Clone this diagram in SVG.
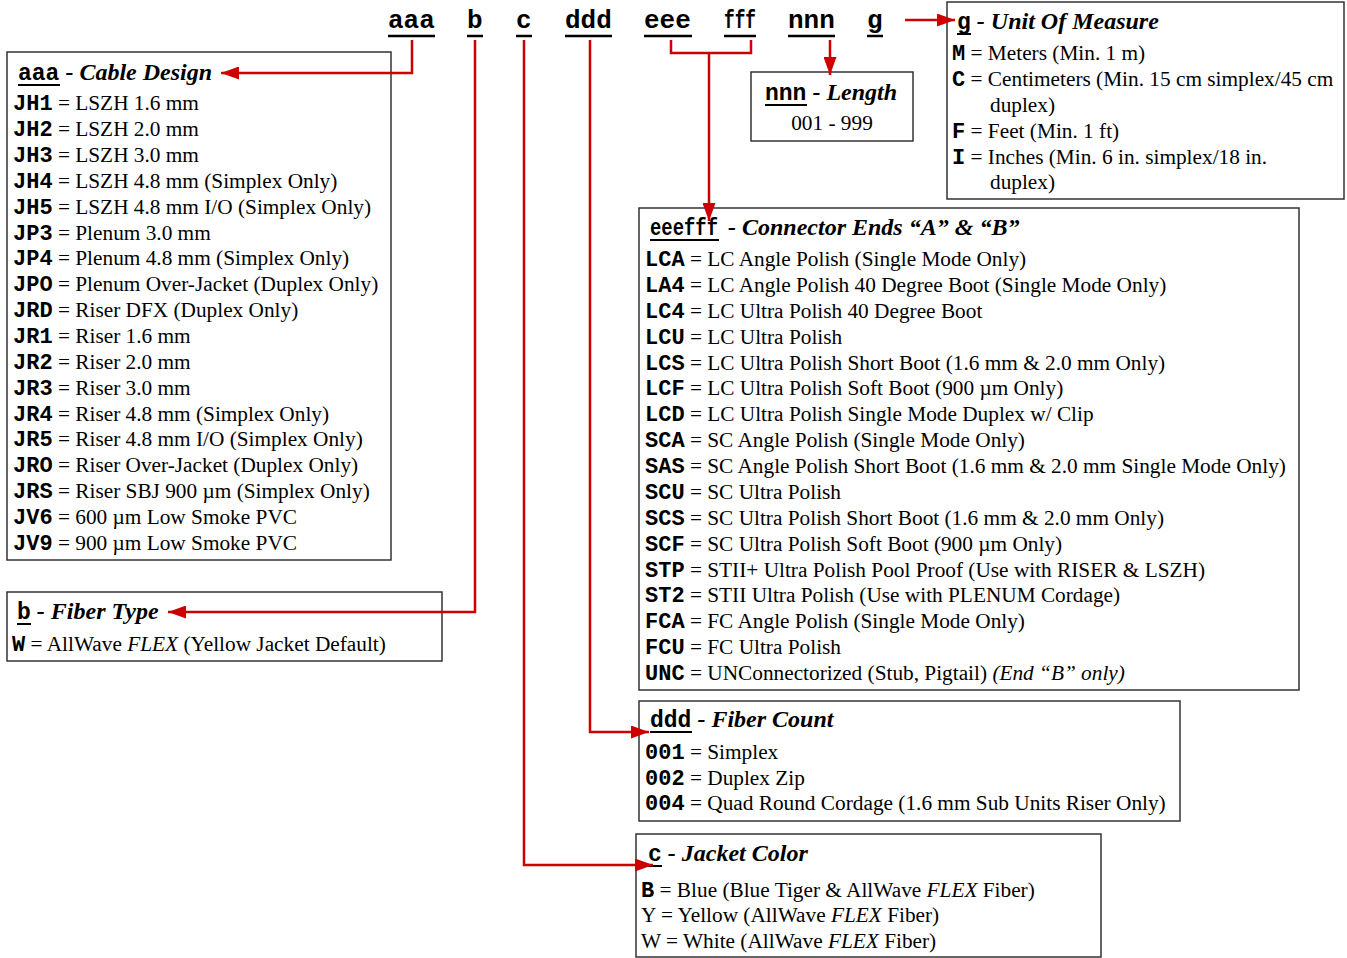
<svg xmlns="http://www.w3.org/2000/svg" width="1347" height="958" viewBox="0 0 1347 958">
<style>
text{font-family:"Liberation Serif","Times New Roman",serif;font-size:21.3px;fill:#000}
.k{font-family:"Liberation Mono","Courier New",monospace;font-weight:bold;font-size:22px}
.hc{font-family:"Liberation Mono","Courier New",monospace;font-weight:bold;font-size:23px}
.ht{font-weight:bold;font-style:italic;font-size:24px}
.top{font-family:"Liberation Mono","Courier New",monospace;font-weight:bold;font-size:26px}
.box{fill:#fff;stroke:#333;stroke-width:1.5}
.ul{stroke:#000;stroke-width:2}
.ulh{stroke:#000;stroke-width:2.5}
.con{fill:none;stroke:#cc0000;stroke-width:2.5}
.i{font-style:italic}
</style>
<defs>
<marker id="ah" markerUnits="userSpaceOnUse" markerWidth="19" markerHeight="13" refX="18" refY="6.5" orient="auto">
<path d="M0,0 L18,6.5 L0,13 z" fill="#cc0000"/>
</marker>
</defs>
<rect width="1347" height="958" fill="#fff"/>

<g id="header">
<text class="top" x="388" y="28">aaa</text>
<text class="top" x="467" y="28">b</text>
<text class="top" x="516" y="28">c</text>
<text class="top" x="565" y="28">ddd</text>
<text class="top" x="644" y="28">eee</text>
<text class="top" x="724" y="28" textLength="32" lengthAdjust="spacingAndGlyphs">fff</text>
<text class="top" x="788" y="28">nnn</text>
<text class="top" x="867" y="28">g</text>
<line class="ulh" x1="388" y1="36" x2="435" y2="36"/>
<line class="ulh" x1="467" y1="36" x2="483" y2="36"/>
<line class="ulh" x1="516" y1="36" x2="532" y2="36"/>
<line class="ulh" x1="565" y1="36" x2="612" y2="36"/>
<line class="ulh" x1="644" y1="36" x2="692" y2="36"/>
<line class="ulh" x1="724" y1="36" x2="756" y2="36"/>
<line class="ulh" x1="788" y1="36" x2="835" y2="36"/>
<line class="ulh" x1="867" y1="36" x2="883" y2="36"/>
</g>

<g id="node-aaa">
<rect class="box" x="7" y="52" width="384" height="508"/>
<text x="18" y="80"><tspan class="hc">aaa</tspan><tspan class="ht"> - Cable Design</tspan></text>
<line class="ul" x1="18" y1="85" x2="60" y2="85"/>
<text x="13" y="110"><tspan class="k">JH1</tspan> = LSZH 1.6 mm</text>
<text x="13" y="136"><tspan class="k">JH2</tspan> = LSZH 2.0 mm</text>
<text x="13" y="162"><tspan class="k">JH3</tspan> = LSZH 3.0 mm</text>
<text x="13" y="188"><tspan class="k">JH4</tspan> = LSZH 4.8 mm (Simplex Only)</text>
<text x="13" y="214"><tspan class="k">JH5</tspan> = LSZH 4.8 mm I/O (Simplex Only)</text>
<text x="13" y="240"><tspan class="k">JP3</tspan> = Plenum 3.0 mm</text>
<text x="13" y="265"><tspan class="k">JP4</tspan> = Plenum 4.8 mm (Simplex Only)</text>
<text x="13" y="291"><tspan class="k">JPO</tspan> = Plenum Over-Jacket (Duplex Only)</text>
<text x="13" y="317"><tspan class="k">JRD</tspan> = Riser DFX (Duplex Only)</text>
<text x="13" y="343"><tspan class="k">JR1</tspan> = Riser 1.6 mm</text>
<text x="13" y="369"><tspan class="k">JR2</tspan> = Riser 2.0 mm</text>
<text x="13" y="395"><tspan class="k">JR3</tspan> = Riser 3.0 mm</text>
<text x="13" y="421"><tspan class="k">JR4</tspan> = Riser 4.8 mm (Simplex Only)</text>
<text x="13" y="446"><tspan class="k">JR5</tspan> = Riser 4.8 mm I/O (Simplex Only)</text>
<text x="13" y="472"><tspan class="k">JRO</tspan> = Riser Over-Jacket (Duplex Only)</text>
<text x="13" y="498"><tspan class="k">JRS</tspan> = Riser SBJ 900 µm (Simplex Only)</text>
<text x="13" y="524"><tspan class="k">JV6</tspan> = 600 µm Low Smoke PVC</text>
<text x="13" y="550"><tspan class="k">JV9</tspan> = 900 µm Low Smoke PVC</text>
</g>

<g id="node-b">
<rect class="box" x="7" y="592" width="435" height="69"/>
<text x="17" y="619"><tspan class="hc">b</tspan><tspan class="ht"> - Fiber Type</tspan></text>
<line class="ul" x1="17" y1="624" x2="31" y2="624"/>
<text x="12" y="651"><tspan class="k">W</tspan> = AllWave <tspan class="i">FLEX</tspan> (Yellow Jacket Default)</text>
</g>

<g id="node-nnn">
<rect class="box" x="751" y="72" width="162" height="69"/>
<text x="765" y="100"><tspan class="hc">nnn</tspan><tspan class="ht"> - Length</tspan></text>
<line class="ul" x1="765" y1="105" x2="807" y2="105"/>
<text x="832" y="130" text-anchor="middle">001 - 999</text>
</g>

<g id="node-g">
<rect class="box" x="947" y="2" width="397" height="197"/>
<text x="957" y="29"><tspan class="hc">g</tspan><tspan class="ht"> - Unit Of Measure</tspan></text>
<line class="ul" x1="957" y1="34" x2="971" y2="34"/>
<text x="952" y="60"><tspan class="k">M</tspan> = Meters (Min. 1 m)</text>
<text x="952" y="86"><tspan class="k">C</tspan> = Centimeters (Min. 15 cm simplex/45 cm</text>
<text x="990" y="112">duplex)</text>
<text x="952" y="138"><tspan class="k">F</tspan> = Feet (Min. 1 ft)</text>
<text x="952" y="164"><tspan class="k">I</tspan> = Inches (Min. 6 in. simplex/18 in.</text>
<text x="990" y="189">duplex)</text>
</g>

<g id="node-eeefff">
<rect class="box" x="639" y="208" width="660" height="482"/>
<text class="hc" x="650" y="235" textLength="68" lengthAdjust="spacingAndGlyphs">eeefff</text>
<text class="ht" x="728" y="235">- Connector Ends “A” &amp; “B”</text>
<line class="ul" x1="650" y1="240" x2="719" y2="240"/>
<text x="645" y="266"><tspan class="k">LCA</tspan> = LC Angle Polish (Single Mode Only)</text>
<text x="645" y="292"><tspan class="k">LA4</tspan> = LC Angle Polish 40 Degree Boot (Single Mode Only)</text>
<text x="645" y="318"><tspan class="k">LC4</tspan> = LC Ultra Polish 40 Degree Boot</text>
<text x="645" y="344"><tspan class="k">LCU</tspan> = LC Ultra Polish</text>
<text x="645" y="370"><tspan class="k">LCS</tspan> = LC Ultra Polish Short Boot (1.6 mm &amp; 2.0 mm Only)</text>
<text x="645" y="395"><tspan class="k">LCF</tspan> = LC Ultra Polish Soft Boot (900 µm Only)</text>
<text x="645" y="421"><tspan class="k">LCD</tspan> = LC Ultra Polish Single Mode Duplex w/ Clip</text>
<text x="645" y="447"><tspan class="k">SCA</tspan> = SC Angle Polish (Single Mode Only)</text>
<text x="645" y="473"><tspan class="k">SAS</tspan> = SC Angle Polish Short Boot (1.6 mm &amp; 2.0 mm Single Mode Only)</text>
<text x="645" y="499"><tspan class="k">SCU</tspan> = SC Ultra Polish</text>
<text x="645" y="525"><tspan class="k">SCS</tspan> = SC Ultra Polish Short Boot (1.6 mm &amp; 2.0 mm Only)</text>
<text x="645" y="551"><tspan class="k">SCF</tspan> = SC Ultra Polish Soft Boot (900 µm Only)</text>
<text x="645" y="577"><tspan class="k">STP</tspan> = STII+ Ultra Polish Pool Proof (Use with RISER &amp; LSZH)</text>
<text x="645" y="602"><tspan class="k">ST2</tspan> = STII Ultra Polish (Use with PLENUM Cordage)</text>
<text x="645" y="628"><tspan class="k">FCA</tspan> = FC Angle Polish (Single Mode Only)</text>
<text x="645" y="654"><tspan class="k">FCU</tspan> = FC Ultra Polish</text>
<text x="645" y="680"><tspan class="k">UNC</tspan> = UNConnectorized (Stub, Pigtail) <tspan class="i">(End “B” only)</tspan></text>
</g>

<g id="node-ddd">
<rect class="box" x="639" y="701" width="541" height="120"/>
<text x="650" y="727"><tspan class="hc">ddd</tspan><tspan class="ht"> - Fiber Count</tspan></text>
<line class="ul" x1="650" y1="732" x2="692" y2="732"/>
<text x="645" y="759"><tspan class="k">001</tspan> = Simplex</text>
<text x="645" y="785"><tspan class="k">002</tspan> = Duplex Zip</text>
<text x="645" y="810"><tspan class="k">004</tspan> = Quad Round Cordage (1.6 mm Sub Units Riser Only)</text>
</g>

<g id="node-c">
<rect class="box" x="636" y="834" width="465" height="123"/>
<text x="648" y="861"><tspan class="hc">c</tspan><tspan class="ht"> - Jacket Color</tspan></text>
<line class="ul" x1="648" y1="866" x2="662" y2="866"/>
<text x="641" y="897"><tspan class="k">B</tspan> = Blue (Blue Tiger &amp; AllWave <tspan class="i">FLEX</tspan> Fiber)</text>
<text x="641" y="922">Y = Yellow (AllWave <tspan class="i">FLEX</tspan> Fiber)</text>
<text x="641" y="948">W = White (AllWave <tspan class="i">FLEX</tspan> Fiber)</text>
</g>

<g id="connectors">
<path class="con" d="M412,40 V73 H221" marker-end="url(#ah)"/>
<path class="con" d="M475,40 V612 H168" marker-end="url(#ah)"/>
<path class="con" d="M524,40 V865 H653" marker-end="url(#ah)"/>
<path class="con" d="M590,40 V732 H649" marker-end="url(#ah)"/>
<path class="con" d="M671,40 V53 H751 V40"/>
<path class="con" d="M709,53 V221" marker-end="url(#ah)"/>
<path class="con" d="M830,40 V75" marker-end="url(#ah)"/>
<path class="con" d="M905,20 H955" marker-end="url(#ah)"/>
</g>
</svg>
